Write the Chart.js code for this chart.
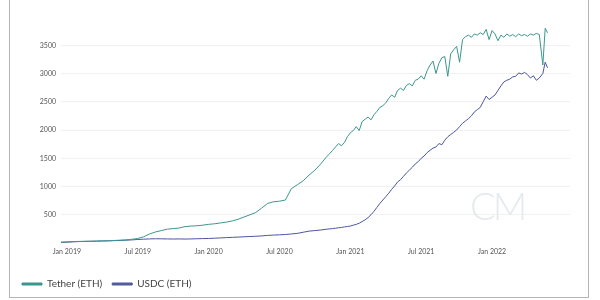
<!DOCTYPE html>
<html>
<head>
<meta charset="utf-8">
<script src="https://cdn.jsdelivr.net/npm/chart.js@4.4.1/dist/chart.umd.min.js"></script>
<style>
  html, body { margin: 0; padding: 0; background: #fff; }
  #wrap { position: relative; width: 600px; height: 300px; overflow: hidden; }
  #frame {
    position: absolute; left: 9px; top: -4px; width: 578px; height: 300px;
    border: 1px solid #b4b4b4; pointer-events: none;
  }
  #mark {
    position: absolute; left: 470px; top: 182px;
    font-family: Lato, sans-serif; font-weight: 300; font-size: 38px;
    color: #e5eaed; letter-spacing: -3px; pointer-events: none;
  }
</style>
</head>
<body>
<div id="wrap">
  <canvas id="chart" width="600" height="300"></canvas>
  <div id="mark">CM</div>
  <div id="frame"></div>
</div>
<script>
// months since Jan 2019 (0 = Jan 2019)
const monthIdx = [
  -0.5, 0, 0.5, 1, 1.5, 2, 2.5, 3, 3.5, 4, 4.5, 5, 5.5, 6, 6.5, 7, 7.5, 8, 8.5, 9, 9.5,
  10, 10.5, 11, 11.5, 12, 12.5, 13, 13.5, 14, 14.5, 15, 15.5, 16, 16.5, 17, 17.5, 18, 18.5,
  19, 19.5, 20, 20.5, 21, 21.5,
  22, 22.25, 22.5, 22.75, 23, 23.25, 23.5, 23.75, 24, 24.25, 24.5, 24.75,
  25, 25.25, 25.5, 25.75, 26, 26.25, 26.5, 26.75, 27, 27.25, 27.5, 27.75,
  28, 28.25, 28.5, 28.75, 29, 29.25, 29.5, 29.75, 30, 30.25, 30.5, 30.75,
  31, 31.25, 31.5, 31.75, 32, 32.25, 32.5, 32.75, 33, 33.25, 33.5, 33.75,
  34, 34.25, 34.5, 34.75, 35, 35.25, 35.5, 35.75, 36, 36.25, 36.5, 36.75,
  37, 37.25, 37.5, 37.75, 38, 38.25, 38.5, 38.75, 39, 39.25, 39.5, 39.75,
  40, 40.3, 40.5, 40.7
];

const tether = [
  15, 20, 25, 28, 30, 32, 35, 38, 40, 45, 50, 55, 65, 80, 110, 160, 195, 220, 245, 255, 265,
  290, 300, 305, 315, 330, 340, 355, 370, 390, 420, 460, 500, 540, 620, 700, 730, 740, 760,
  960, 1030, 1100, 1200, 1290, 1400,
  1530, 1580, 1640, 1700, 1760, 1720, 1780, 1880, 1950, 1990, 2060, 1990,
  2150, 2190, 2230, 2180, 2270, 2330, 2400, 2430, 2480, 2560, 2620, 2580,
  2700, 2740, 2700, 2790, 2820, 2780, 2880, 2900, 2960, 2900, 3050, 3150,
  3220, 3000, 3180, 3280, 3300, 2950, 3350, 3420, 3480, 3200, 3600, 3650,
  3680, 3640, 3700, 3680, 3720, 3690, 3780, 3600, 3760, 3700, 3580, 3680,
  3640, 3700, 3660, 3690, 3650, 3700, 3670, 3690, 3660, 3700, 3680, 3710,
  3690, 3150, 3800, 3720
];

const usdc = [
  10, 15, 20, 25, 28, 30, 32, 35, 38, 42, 45, 50, 55, 62, 68, 72, 75, 74, 72, 70, 72,
  70, 72, 75, 78, 80, 85, 90, 95, 100, 105, 110, 115, 120, 125, 135, 140, 145, 150,
  160, 170, 190, 210, 220, 230,
  245, 250, 255, 262, 270, 275, 285, 292, 300, 315, 330, 350,
  380, 410, 450, 500, 560, 630, 700, 760, 820, 880, 950, 1010,
  1080, 1120, 1180, 1240, 1290, 1340, 1400, 1440, 1500, 1540, 1600, 1640,
  1680, 1700, 1760, 1740, 1820, 1880, 1920, 1960, 2000, 2060, 2120, 2160,
  2200, 2250, 2320, 2360, 2400, 2500, 2600, 2540, 2580, 2620, 2700, 2780,
  2850, 2880, 2900, 2940, 2950, 3010, 2990, 3020, 2980, 2920, 2960, 2880,
  2920, 3000, 3200, 3100
];

const tickMonths = [0, 6, 12, 18, 24, 30, 36];
const tickLabels = ['Jan 2019', 'Jul 2019', 'Jan 2020', 'Jul 2020', 'Jan 2021', 'Jul 2021', 'Jan 2022'];
const seriesNames = ['Tether (ETH)', 'USDC (ETH)'];
const seriesColors = ['#3a978c', '#4a55a2'];

const toPoints = vals => vals.map((v, i) => ({ x: monthIdx[i], y: v }));

new Chart(document.getElementById('chart'), {
  type: 'line',
  data: {
    datasets: [
      {
        label: seriesNames[0],
        data: toPoints(tether),
        borderColor: seriesColors[0],
        backgroundColor: seriesColors[0],
        borderWidth: 1,
        pointRadius: 0,
        tension: 0
      },
      {
        label: seriesNames[1],
        data: toPoints(usdc),
        borderColor: seriesColors[1],
        backgroundColor: '#5b6690',
        borderWidth: 1,
        pointRadius: 0,
        tension: 0
      }
    ]
  },
  options: {
    responsive: false,
    animation: false,
    layout: { padding: { left: 12, right: 30, top: 17, bottom: 1 } },
    plugins: {
      tooltip: { enabled: false },
      legend: {
        position: 'bottom',
        align: 'start',
        labels: {
          boxWidth: 20,
          boxHeight: 2,
          padding: 10,
          color: '#444',
          font: { family: 'Lato', size: 10 }
        }
      }
    },
    scales: {
      x: {
        type: 'linear',
        min: -0.5,
        max: 42.6,
        border: { display: false },
        grid: { display: false, drawTicks: false },
        afterBuildTicks: axis => { axis.ticks = tickMonths.map(v => ({ value: v })); },
        afterFit: axis => { axis.height = 26; },
        ticks: {
          padding: 5,
          maxRotation: 0,
          color: '#555',
          font: { family: 'Lato', size: 7 },
          callback: v => tickLabels[tickMonths.indexOf(v)]
        }
      },
      y: {
        min: 0,
        max: 4000,
        border: { display: false },
        grid: {
          drawTicks: false,
          color: ctx => (ctx.tick.value === 0 || ctx.tick.value === 4000) ? 'rgba(0,0,0,0)' : '#f1f1f1'
        },
        afterFit: axis => { axis.width = 49; },
        ticks: {
          stepSize: 500,
          padding: 5,
          color: '#555',
          font: { family: 'Lato', size: 7 },
          callback: v => (v === 0 || v === 4000) ? '' : v
        }
      }
    }
  }
});
</script>
</body>
</html>
